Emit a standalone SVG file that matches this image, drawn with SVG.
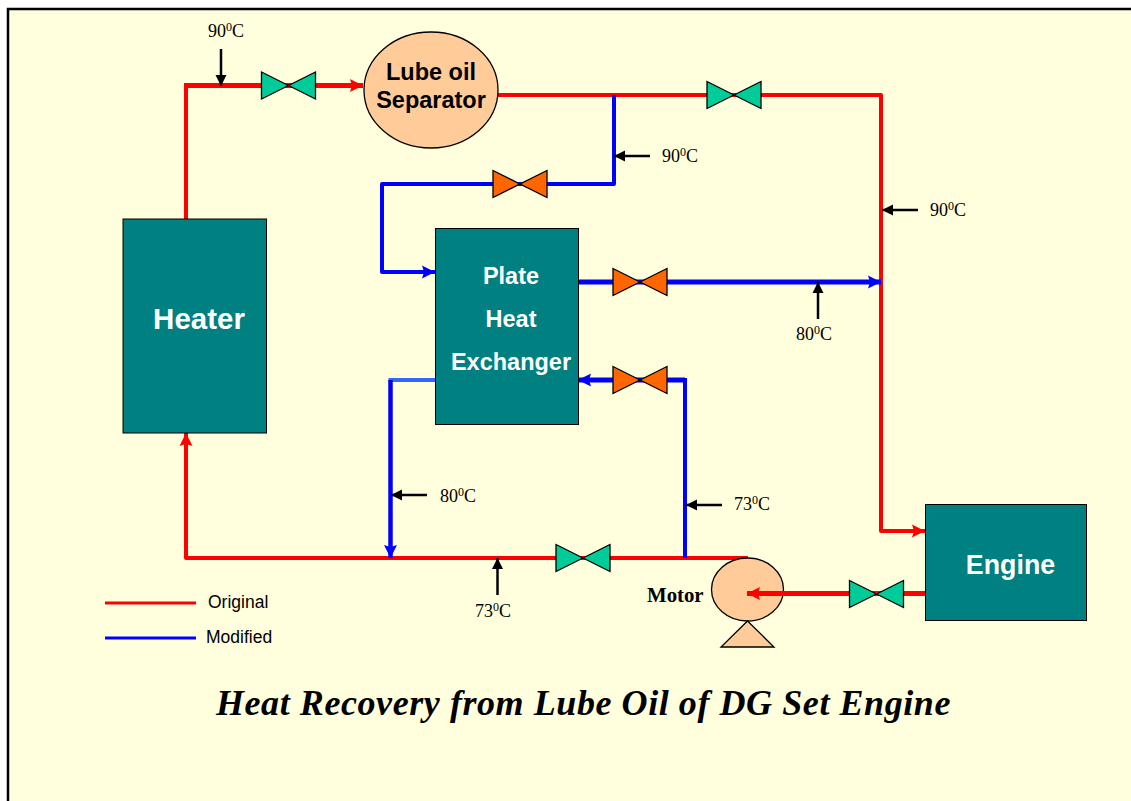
<svg xmlns="http://www.w3.org/2000/svg" width="1131" height="801" viewBox="0 0 1131 801">
<style>
.pipe{fill:none;stroke-linejoin:round;stroke-linecap:butt}
.r{stroke:#ff0000;stroke-width:4}
.b{stroke:#0000ff;stroke-width:4}
.box{fill:#008080;stroke:#000;stroke-width:1}
.peach{fill:#ffcc99;stroke:#000;stroke-width:1.3}
.vg{fill:#00cc99;stroke:#000;stroke-width:1.3}
.vo{fill:#ff6600;stroke:#000;stroke-width:1.3}
.k{stroke:#000;stroke-width:2.5;fill:none}
text{font-family:"Liberation Sans",Arial,sans-serif}
.t{font-family:"Liberation Serif","Times New Roman",serif;font-size:18px;fill:#000}
.s{font-size:12px}
.w{fill:#fff;font-weight:bold;text-anchor:middle}
.d{fill:#000;font-weight:bold;text-anchor:middle;font-size:23.5px}
.l{font-size:17.500px;fill:#000}
</style>
<defs>
<marker id="ar" markerUnits="userSpaceOnUse" markerWidth="14" markerHeight="14" refX="13" refY="7" orient="auto"><path d="M0 0.500L13 7L0 13.500L2 7Z" fill="#ff0000"/></marker>
<marker id="ab" markerUnits="userSpaceOnUse" markerWidth="14" markerHeight="14" refX="13" refY="7" orient="auto"><path d="M0 0.500L13 7L0 13.500L2 7Z" fill="#0000ff"/></marker>
<marker id="ak" markerUnits="userSpaceOnUse" markerWidth="12" markerHeight="12" refX="11" refY="6" orient="auto"><path d="M0 0.500L11 6L0 11.500Z" fill="#000"/></marker>
<path id="valve" d="M-27 -13.500L27 13.500V-13.500L-27 13.500Z"/>
</defs>
<rect width="1131" height="801" fill="#fff"/>
<rect x="8" y="9" width="1140" height="810" fill="#ffffdd" stroke="#000" stroke-width="2.500"/>
<g id="connectors">
<path class="pipe r" d="M186 219V85.500" />
<path class="pipe r" style="stroke-width:5" d="M184 85.500H363" marker-end="url(#ar)"/>
<path class="pipe r" d="M498 95H881V531H925" marker-end="url(#ar)"/>
<path class="pipe r" d="M748 558H186V433" marker-end="url(#ar)"/>
<path class="pipe b" d="M614 95V184H382V272H435" marker-end="url(#ab)"/>
<path class="pipe b" style="stroke-width:5" d="M578 282H881" marker-end="url(#ab)"/>
<path class="pipe b" style="stroke-width:5" d="M685 380H578" marker-end="url(#ab)"/>
<path class="pipe b" d="M685 558V378"/>
<path class="pipe" stroke="#3366ff" stroke-width="4" d="M436 380H388.500"/>
<path class="pipe b" style="stroke-width:4.500" d="M390.500 380V558" marker-end="url(#ab)"/>
<path class="k" d="M221 49V86" marker-end="url(#ak)"/>
<path class="k" d="M650 156H614" marker-end="url(#ak)"/>
<path class="k" d="M918 210H882" marker-end="url(#ak)"/>
<path class="k" d="M818 319V282" marker-end="url(#ak)"/>
<path class="k" d="M427 495H391" marker-end="url(#ak)"/>
<path class="k" d="M722 505H686" marker-end="url(#ak)"/>
<path class="k" d="M497.500 595V558" marker-end="url(#ak)"/>
<path class="pipe" stroke="#ff0000" stroke-width="3" d="M105 603H196"/>
<path class="pipe" stroke="#0000ff" stroke-width="3" d="M105 638H196"/>
</g>
<g id="heater"><rect class="box" x="123" y="219" width="143.500" height="214"/><text class="w" x="199" y="329" font-size="29.500">Heater</text></g>
<g id="plate-heat-exchanger"><rect class="box" x="435.500" y="228.500" width="143" height="196"/><text class="w" font-size="23.500" x="511" y="284">Plate</text><text class="w" font-size="23.500" x="511" y="327">Heat</text><text class="w" font-size="23.500" x="511" y="370">Exchanger</text></g>
<g id="engine"><rect class="box" x="925.500" y="504.500" width="161" height="116"/><text class="w" x="1010.500" y="574" font-size="26.800">Engine</text></g>
<g id="separator"><ellipse class="peach" cx="431" cy="90" rx="67" ry="58"/><text class="d" x="431" y="80">Lube oil</text><text class="d" x="431" y="108">Separator</text></g>
<g id="motor"><ellipse class="peach" cx="747.500" cy="589.500" rx="36" ry="31.500"/><path class="peach" d="M747.500 621L774 647H721Z"/><text x="647" y="602" font-size="20.800" font-weight="bold" style="font-family:'Liberation Serif',serif">Motor</text></g>
<path class="pipe r" style="stroke-width:5" d="M925 593.500H747" marker-end="url(#ar)"/>
<g id="valve-1"><use href="#valve" class="vg" x="288.500" y="85.500"/></g>
<g id="valve-2"><use href="#valve" class="vg" x="734" y="95"/></g>
<g id="valve-3"><use href="#valve" class="vo" x="520" y="184"/></g>
<g id="valve-4"><use href="#valve" class="vo" x="640" y="282"/></g>
<g id="valve-5"><use href="#valve" class="vo" x="640" y="380"/></g>
<g id="valve-6"><use href="#valve" class="vg" x="583" y="558"/></g>
<g id="valve-7"><use href="#valve" class="vg" x="876.500" y="594"/></g>
<g id="labels">
<text class="t" x="208" y="37">90<tspan class="s" dy="-6">0</tspan><tspan dy="6">C</tspan></text>
<text class="t" x="662" y="162">90<tspan class="s" dy="-6">0</tspan><tspan dy="6">C</tspan></text>
<text class="t" x="930" y="216">90<tspan class="s" dy="-6">0</tspan><tspan dy="6">C</tspan></text>
<text class="t" x="796" y="340">80<tspan class="s" dy="-6">0</tspan><tspan dy="6">C</tspan></text>
<text class="t" x="440" y="502">80<tspan class="s" dy="-6">0</tspan><tspan dy="6">C</tspan></text>
<text class="t" x="734" y="510">73<tspan class="s" dy="-6">0</tspan><tspan dy="6">C</tspan></text>
<text class="t" x="475" y="617">73<tspan class="s" dy="-6">0</tspan><tspan dy="6">C</tspan></text>
<text class="l" x="208" y="608">Original</text>
<text class="l" x="206" y="643">Modified</text>
<text x="216" y="715" font-size="36" font-weight="bold" font-style="italic" letter-spacing="0.570" style="font-family:'Liberation Serif','Times New Roman',serif">Heat Recovery from Lube Oil of DG Set Engine</text>
</g>
</svg>
